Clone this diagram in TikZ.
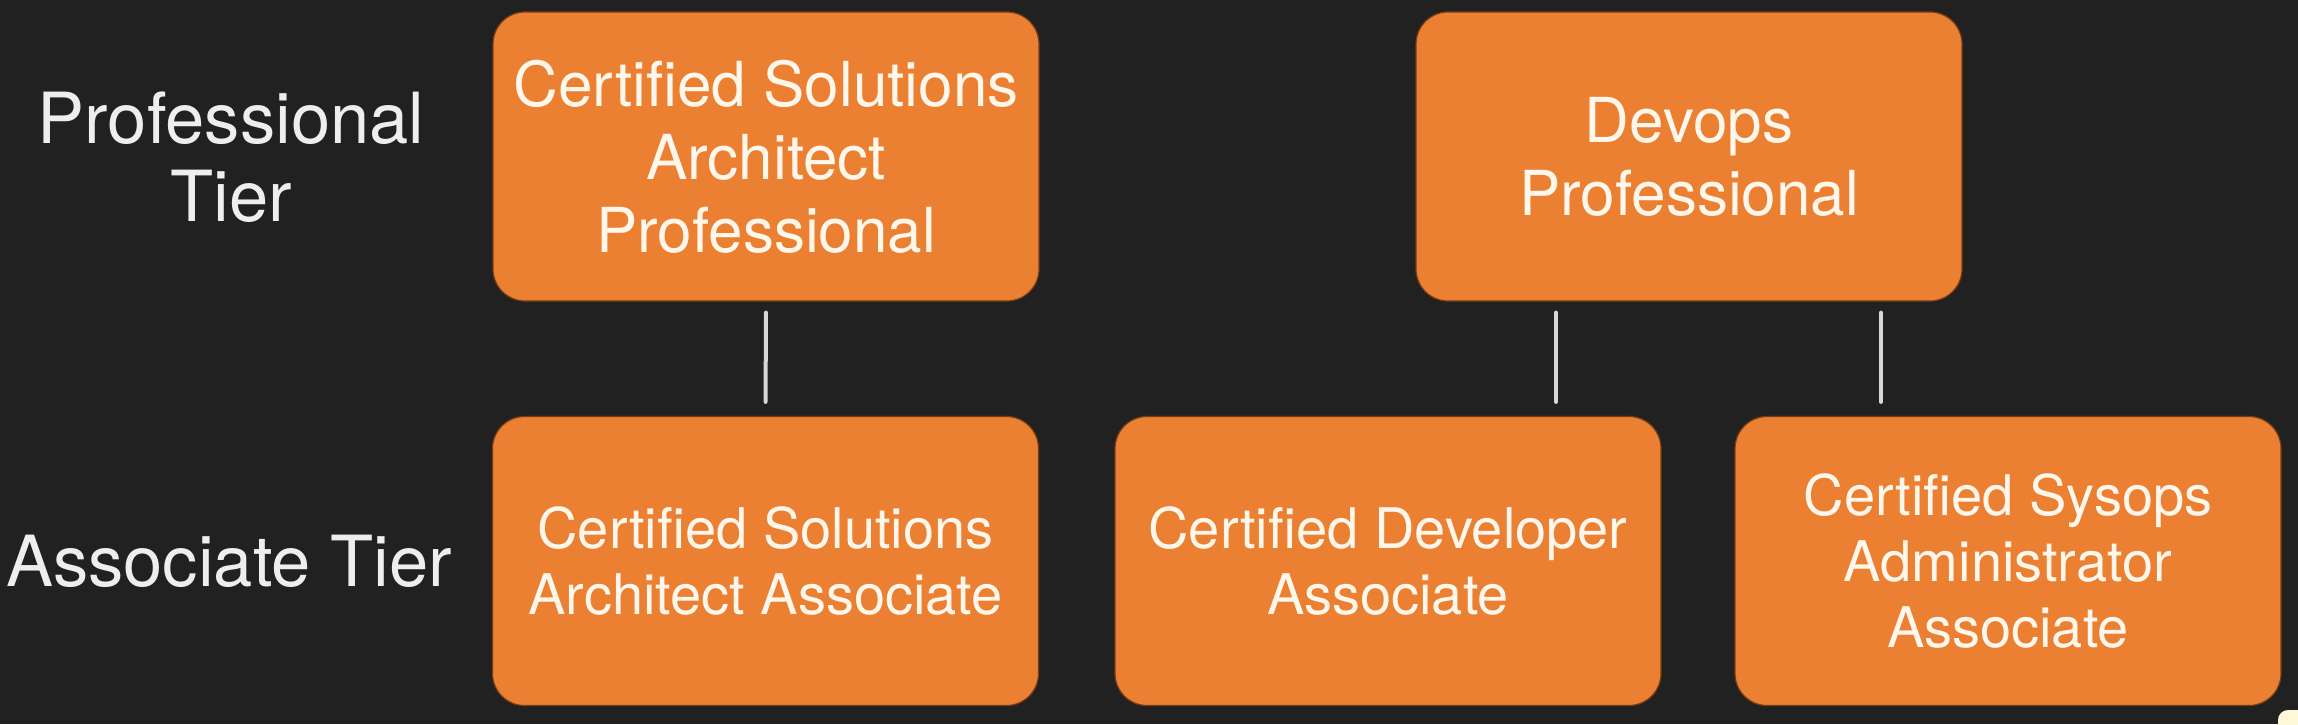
\documentclass[tikz,border=0pt]{standalone}
\usepackage{fontspec}
\setmainfont{TeX Gyre Heros}
\definecolor{bg}{RGB}{33,33,33}
\definecolor{boxorange}{RGB}{235,128,50}
\definecolor{boxedge}{RGB}{120,60,20}
\definecolor{boxtext}{RGB}{255,247,235}
\definecolor{tiertext}{RGB}{238,238,238}
\definecolor{linegrey}{RGB}{215,215,215}
\definecolor{cream}{RGB}{255,248,216}
\tikzset{
  box/.style={rounded corners=32pt, fill=boxorange, draw=boxedge, line width=1.2pt,
    minimum width=546pt, minimum height=289pt, text=boxtext, align=center, inner sep=0pt},
  topfont/.style={font=\fontsize{62}{73}\selectfont},
  botfont/.style={font=\fontsize{56}{66}\selectfont},
  tier/.style={text=tiertext, align=center, inner sep=0pt, font=\fontsize{70.5}{78}\selectfont},
  conn/.style={draw=linegrey, line width=4pt, line cap=round}
}
\begin{document}
\begin{tikzpicture}[x=1pt,y=-1pt]
\fill[bg] (0,0) rectangle (2298,724);
\useasboundingbox (0,0) rectangle (2298,724);
% tier labels
\node[tier] (protier) at (231,157) {Professional\\Tier};
\node[tier] (asstier) at (229,561) {Associate Tier};
% professional boxes
\node[box,topfont] (csap) at (766,156.5) {Certified Solutions\\Architect\\Professional};
\node[box,topfont] (dop) at (1689,156.5) {Devops\\Professional};
% associate boxes
\node[box,botfont] (csaa) at (765.5,561) {Certified Solutions\\Architect Associate};
\node[box,botfont] (cda) at (1388,561) {Certified Developer\\Associate};
\node[box,botfont] (csysa) at (2008,561) {Certified Sysops\\Administrator\\Associate};
% connectors
\draw[conn, shorten <=11pt, shorten >=14pt] (csap.south) -- (csaa.north);
\coordinate (d1top) at ([xshift=-133pt]dop.south);
\coordinate (d2top) at ([xshift=192pt]dop.south);
\draw[conn, shorten <=11pt, shorten >=14pt] (d1top) -- (d1top |- cda.north);
\draw[conn, shorten <=11pt, shorten >=14pt] (d2top) -- (d2top |- csysa.north);
% corner fragment
\fill[cream, rounded corners=10pt] (2278,710) rectangle (2320,750);
\end{tikzpicture}
\end{document}
